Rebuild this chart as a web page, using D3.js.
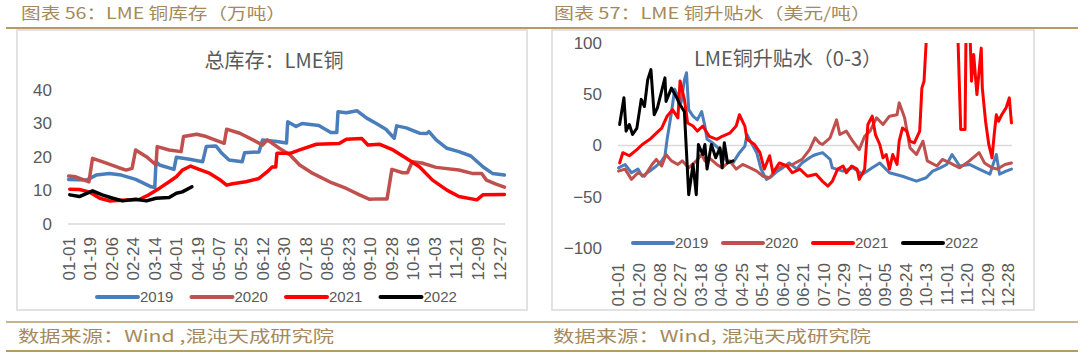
<!DOCTYPE html>
<html>
<head>
<meta charset="utf-8">
<script src="https://cdn.jsdelivr.net/npm/d3@7"></script>
<style>
  body { margin: 0; background: #fff; }
  svg { display: block; }
</style>
</head>
<body>
<svg id="chart" width="1080" height="353"></svg>
<script>
// ---- data ----
const years = ["2019", "2020", "2021", "2022"];
const yearColors = ["#4a7ebb", "#c0504d", "#ff0000", "#000000"];

const stockTicks = ["01-01","01-19","02-06","02-24","03-14","04-01","04-19","05-07","05-25","06-12","06-30",
  "07-18","08-05","08-23","09-10","09-28","10-16","11-03","11-21","12-09","12-27"];
const spreadTicks = ["01-01","01-20","02-08","02-27","03-18","04-06","04-25","05-14","06-02","06-21",
  "07-10","07-29","08-17","09-05","09-24","10-13","11-01","11-20","12-09","12-28"];
const stockYTicks = [0, 10, 20, 30, 40];
const spreadYTicks = [-100, -50, 0, 50, 100];

// LME copper stocks (10k t)
const stock2019 = [["01-01",13.3],["01-16",13.1],["01-24",14.6],["02-04",15.1],["02-14",14.6],["02-26",13.3],
  ["03-11",11.1],["03-14",10.9],["03-15",18.6],["03-18",17.6],["03-30",16.3],["04-01",19.9],["04-12",19.3],
  ["04-23",18.6],["04-26",23.1],["05-04",23.3],["05-09",21.1],["05-15",19.1],["05-26",18.6],["05-28",21.3],
  ["06-09",21.5],["06-12",25.1],["06-24",24.6],["07-02",24.2],["07-03",30.5],["07-10",29.1],["07-15",30.0],
  ["07-29",29.4],["08-08",27.3],["08-13",27.3],["08-14",33.5],["08-21",33.2],["08-30",33.8],["09-07",31.6],
  ["09-15",30.0],["09-23",28.3],["09-30",25.6],["10-02",29.3],["10-10",28.7],["10-21",27.1],["10-27",27.0],
  ["10-29",27.6],["11-04",25.1],["11-13",22.6],["11-23",21.6],["12-03",20.3],["12-13",17.1],["12-21",15.1],
  ["12-31",14.6]];
const stock2020 = [["01-01",14.3],["01-07",14.1],["01-18",12.6],["01-21",19.6],["01-29",18.6],["02-12",16.8],
  ["02-18",16.1],["02-23",16.6],["02-26",22.1],["03-07",20.1],["03-15",17.6],["03-16",23.1],["03-26",22.1],
  ["04-05",21.6],["04-07",26.1],["04-18",26.8],["04-26",26.1],["05-07",24.6],["05-11",24.1],["05-13",28.3],
  ["05-24",27.1],["06-04",25.1],["06-12",23.6],["06-16",25.1],["06-26",22.6],["07-05",20.6],["07-13",17.6],
  ["07-24",15.1],["08-07",12.6],["08-21",10.6],["09-01",8.7],["09-09",7.4],["09-18",7.5],["09-24",7.5],
  ["09-28",16.3],["10-07",15.3],["10-11",15.3],["10-15",18.6],["10-23",18.2],["11-04",16.9],["11-23",16.1],
  ["12-04",15.1],["12-12",15.1],["12-16",13.1],["12-24",11.9],["12-31",11.0]];
const stock2021 = [["01-02",10.4],["01-10",10.3],["01-18",9.6],["01-27",7.7],["02-04",6.9],["02-18",7.2],
  ["03-01",7.3],["03-09",8.7],["03-18",10.7],["03-26",12.6],["04-01",14.1],["04-06",16.1],["04-13",17.3],
  ["04-20",16.3],["04-29",15.1],["05-07",13.3],["05-13",11.6],["05-18",12.0],["05-29",12.6],["06-09",13.6],
  ["06-16",15.6],["06-20",17.0],["06-23",17.0],["06-24",21.1],["07-05",21.1],["07-13",22.1],["07-27",23.8],
  ["08-15",24.0],["08-21",25.3],["09-03",25.5],["09-08",23.6],["09-18",23.8],["09-28",22.3],["10-10",19.6],
  ["10-21",17.1],["11-01",13.1],["11-13",10.1],["11-23",8.2],["12-08",7.2],["12-13",8.7],["12-31",8.8]];
const stock2022 = [["01-02",8.7],["01-10",8.2],["01-21",9.9],["01-29",8.7],["02-07",7.7],["02-15",6.9],
  ["02-26",7.4],["03-07",6.9],["03-15",7.7],["03-26",7.9],["04-01",9.2],["04-06",9.6],["04-14",11.1]];

// LME copper 0-3 spread (USD/t)
const spread2019 = [["01-01",-21.8],["01-07",-18.5],["01-13",-26.6],["01-19",-23],["01-23",-30],["01-30",-25],
  ["02-05",-20],["02-10",-15],["02-13",-10],["02-15",6],["02-19",32],["02-22",55],["02-25",48],["02-28",42],
  ["03-03",64],["03-05",71],["03-07",35],["03-11",28.6],["03-15",25],["03-19",33],["03-22",19],["03-24",6],
  ["03-29",2.6],["04-05",-4],["04-11",-15],["04-17",-17],["04-23",-7],["04-28",-0.7],["04-30",10.7],
  ["05-04",2.6],["05-09",-7],["05-13",-23],["05-18",-33],["05-23",-30],["05-28",-25],["06-02",-21.8],
  ["06-08",-17],["06-15",-23],["06-20",-17],["06-27",-12],["06-30",-10],["07-03",-8.8],["07-09",-7],
  ["07-16",-13.6],["07-18",-21.8],["07-28",-25],["08-06",-21.8],["08-15",-28],["08-24",-21.8],["08-31",-17],
  ["09-09",-26.6],["09-21",-30],["10-04",-34.8],["10-13",-31.5],["10-19",-25],["10-26",-21.8],["11-01",-18.5],
  ["11-06",-8.8],["11-13",-20],["11-22",-18.5],["12-01",-23],["12-11",-28],["12-17",-8.8],["12-20",-28],
  ["12-26",-25],["12-31",-23]];
const spread2020 = [["01-01",-25],["01-07",-23],["01-13",-33],["01-19",-26.6],["01-25",-30],["02-01",-18.5],
  ["02-05",-13.6],["02-10",-20],["02-14",-8.8],["02-19",-15],["02-25",-18.5],["03-01",-15],["03-07",-21.8],
  ["03-14",-15],["03-19",-8.8],["03-22",-15],["03-26",-12],["04-02",-18.5],["04-07",-21.8],["04-14",-15],
  ["04-20",-23],["04-26",-18.5],["05-03",-21.8],["05-09",-25],["05-15",-30],["05-21",-31.5],["05-27",-23],
  ["06-02",-20],["06-11",-18.5],["06-20",-13.6],["06-27",-4],["07-02",7.5],["07-06",2.6],["07-09",1],
  ["07-16",7.5],["07-22",25],["07-25",10.7],["07-31",14],["08-06",4.2],["08-12",-4],["08-17",9],["08-22",14],
  ["08-28",27],["09-03",20.5],["09-09",28.6],["09-16",30],["09-18",41.6],["09-23",27],["09-28",-2.3],
  ["10-04",-8.8],["10-10",4.2],["10-14",-15],["10-23",-20],["10-28",-13.6],["11-04",-17],["11-13",-21.8],
  ["11-22",-15],["12-01",-7],["12-06",-17],["12-13",-21.8],["12-18",-23],["12-25",-18.5],["12-31",-17]];
const spread2021 = [["01-02",-17],["01-05",-7],["01-11",-10],["01-18",-4],["01-23",1],["01-30",6],["02-05",12],
  ["02-10",17],["02-15",28.6],["02-20",35],["02-25",27],["02-27",63],["03-03",45],["03-06",22],["03-11",19],
  ["03-15",14],["03-20",19],["03-26",9],["04-02",6],["04-07",9],["04-14",12],["04-20",19],["04-23",30],
  ["04-28",19],["04-30",6],["05-07",1],["05-12",-7],["05-16",-23],["05-21",-10],["05-24",-26.6],["05-30",-17],
  ["06-06",-20],["06-11",-26.6],["06-18",-23],["06-25",-30],["07-03",-28],["07-09",-35],["07-14",-39.6],
  ["07-18",-35],["07-23",-23],["07-28",-20],["07-31",-26.6],["08-05",-20],["08-10",-23],["08-12",-33],
  ["08-17",-23],["08-20",20.5],["08-24",28.6],["08-27",10.7],["08-31",1],["09-03",-12],["09-06",-8.8],
  ["09-09",-23],["09-12",-8.8],["09-16",-18.5],["09-18",4.2],["09-21",17],["09-25",14],["09-28",4.2],
  ["10-02",2.6],["10-07",14],["10-09",56],["10-11",62.7],["10-14",120],["10-21",160],["10-30",150],
  ["11-10",130],["11-11",120],["11-14",15.6],["11-18",15.6],["11-19",120],["11-22",130],["11-24",62.7],
  ["11-26",88.7],["11-29",49.7],["12-03",95],["12-04",56],["12-07",23.7],["12-10",1],["12-13",-12],
  ["12-15",10.7],["12-17",30],["12-19",23.7],["12-22",30],["12-26",36.7],["12-29",46.5],["12-31",22]];
const spread2022 = [["01-02",20.5],["01-06",46.5],["01-08",14],["01-11",20.5],["01-14",10.7],["01-18",17],
  ["01-22",45],["01-25",38],["01-28",64],["01-31",74],["02-03",30],["02-06",36.7],["02-13",66],["02-14",43],
  ["02-19",56],["02-24",46.5],["02-26",41.6],["03-03",33],["03-07",-48],["03-11",-18.5],["03-14",-48],
  ["03-16",1],["03-20",-8.8],["03-22",1],["03-24",-23],["03-28",1],["04-01",-12],["04-05",-2.3],
  ["04-07",-21.8],["04-09",2.6],["04-12",-17],["04-17",-15]];

// one calendar year of day categories (non-leap)
const days = d3.timeDays(new Date(2021, 0, 1), new Date(2022, 0, 1)).map(d3.timeFormat("%m-%d"));

const svg = d3.select("#chart");
const tan = "#b89a66", textGray = "#595959", frameGray = "#d9d9d9";
const cjk = "'Noto Sans CJK SC', sans-serif";
const latin = "'Liberation Sans', Arial, sans-serif";

// --- page header / footer ---
svg.append("line").attr("x1", 6).attr("x2", 1078).attr("y1", 28).attr("y2", 28)
  .attr("stroke", tan).attr("stroke-width", 2);
svg.append("line").attr("x1", 6).attr("x2", 1078).attr("y1", 322).attr("y2", 322)
  .attr("stroke", tan).attr("stroke-width", 1.5);
svg.append("line").attr("x1", 6).attr("x2", 1078).attr("y1", 351).attr("y2", 351)
  .attr("stroke", tan).attr("stroke-width", 2);

const pageTexts = [
  { t: "图表 56：LME 铜库存（万吨）", x: 21, y: 19, w: 265 },
  { t: "图表 57：LME 铜升贴水（美元/吨）", x: 554, y: 19, w: 317 },
  { t: "数据来源：Wind ,混沌天成研究院", x: 18, y: 342, w: 316 },
  { t: "数据来源：Wind, 混沌天成研究院", x: 553, y: 342, w: 318 }
];
svg.selectAll("text.page").data(pageTexts).enter().append("text")
  .attr("class", "page")
  .attr("x", d => d.x).attr("y", d => d.y)
  .attr("textLength", d => d.w).attr("lengthAdjust", "spacingAndGlyphs")
  .attr("fill", "#a5895a")
  .style("font-family", cjk).style("font-size", "16px")
  .text(d => d.t);

// --- one chart panel ---
function drawPanel(p) {
  const g = svg.append("g");

  g.append("rect")
    .attr("x", p.frame[0]).attr("y", p.frame[1])
    .attr("width", p.frame[2]).attr("height", p.frame[3])
    .attr("fill", "#fff").attr("stroke", frameGray).attr("stroke-width", 1.5);

  const x = d3.scaleBand().domain(days).range(p.xRange);
  const y = d3.scaleLinear().domain(p.yDomain).range(p.yRange);
  const bw = x.bandwidth() / 2;

  // chart title
  g.append("text")
    .attr("x", p.titleX).attr("y", p.titleY)
    .attr("text-anchor", "middle")
    .attr("fill", textGray)
    .style("font-family", cjk).style("font-size", "20px")
    .text(p.title);

  // y axis labels
  const ya = g.append("g")
    .attr("transform", `translate(${p.xRange[0]},0)`)
    .call(d3.axisLeft(y).tickValues(p.yTicks).tickSize(0).tickPadding(16));
  ya.select(".domain").remove();
  ya.selectAll("text").attr("fill", textGray)
    .style("font-family", latin).style("font-size", "17px");

  // zero line
  g.append("line")
    .attr("x1", p.xRange[0]).attr("x2", p.xRange[1])
    .attr("y1", y(0)).attr("y2", y(0))
    .attr("stroke", frameGray).attr("stroke-width", 1.5);

  // x labels (rotated)
  const xa = g.append("g")
    .attr("transform", `translate(0,${y(p.yDomain[0])})`)
    .call(d3.axisBottom(x).tickValues(p.xTicks).tickSize(0));
  xa.select(".domain").remove();
  xa.selectAll("text")
    .attr("transform", "rotate(-90)")
    .attr("x", -p.labelGap).attr("y", 0).attr("dy", "0.35em")
    .style("text-anchor", "end")
    .attr("fill", textGray)
    .style("font-family", latin).style("font-size", "17px");

  // clip to plot area
  const clipId = "clip" + p.id;
  svg.append("clipPath").attr("id", clipId).append("rect")
    .attr("x", p.xRange[0] - 4).attr("y", p.yRange[1])
    .attr("width", p.xRange[1] - p.xRange[0] + 8)
    .attr("height", p.yRange[0] - p.yRange[1]);

  const line = d3.line()
    .x(d => x(d[0]) + bw)
    .y(d => y(d[1]));

  g.append("g").attr("clip-path", `url(#${clipId})`)
    .selectAll("path")
    .data(p.series)
    .enter().append("path")
    .attr("fill", "none")
    .attr("stroke", (d, i) => yearColors[i])
    .attr("stroke-width", p.lineWidth)
    .attr("stroke-linejoin", "round")
    .attr("stroke-linecap", "round")
    .attr("d", line);

  // legend
  const lg = g.append("g").selectAll("g")
    .data(years).enter().append("g")
    .attr("transform", (d, i) => `translate(${p.legendX + i * p.legendStep},${p.legendY})`);
  lg.append("line")
    .attr("x1", 0).attr("x2", p.legendLen).attr("y1", 0).attr("y2", 0)
    .attr("stroke", (d, i) => yearColors[i])
    .attr("stroke-width", 4).attr("stroke-linecap", "round");
  lg.append("text")
    .attr("x", p.legendLen + 2).attr("y", 0).attr("dy", "0.35em")
    .attr("fill", textGray)
    .style("font-family", latin).style("font-size", "15px")
    .text(d => d);
}

drawPanel({
  id: "L", frame: [17, 30, 510, 280],
  xRange: [68, 505], yDomain: [0, 40], yRange: [224, 90],
  yTicks: stockYTicks, xTicks: stockTicks, labelGap: 13,
  title: "总库存：LME铜", titleX: 274, titleY: 68,
  series: [stock2019, stock2020, stock2021, stock2022], lineWidth: 3.5,
  legendX: 97, legendStep: 94.5, legendY: 297, legendLen: 41
});

drawPanel({
  id: "R", frame: [552, 30, 482, 280],
  xRange: [618, 1012], yDomain: [-100, 100], yRange: [248, 43],
  yTicks: spreadYTicks, xTicks: spreadTicks, labelGap: 15,
  title: "LME铜升贴水（0-3）", titleX: 788, titleY: 66,
  series: [spread2019, spread2020, spread2021, spread2022], lineWidth: 3,
  legendX: 633, legendStep: 90, legendY: 243, legendLen: 40
});
</script>
</body>
</html>
